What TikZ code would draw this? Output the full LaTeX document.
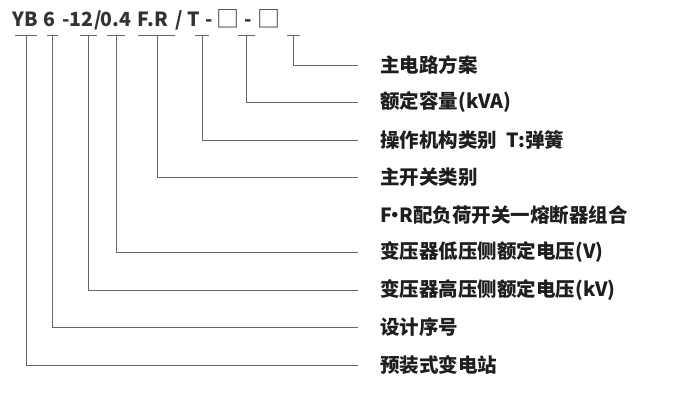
\documentclass[tikz,border=0pt]{standalone}
\usepackage{fontspec}
\setmainfont{Noto Sans CJK SC}
\usepackage{xcolor}
\usetikzlibrary{positioning}
\definecolor{Ink}{HTML}{1E1E1E}
\definecolor{Code}{HTML}{333333}
\definecolor{Rule}{HTML}{666666}
\tikzset{
  code/.style={anchor=base,inner sep=0pt,font=\fontsize{19.5}{22}\selectfont\bfseries,text=Code},
  blank/.style={code,font=\fontsize{23}{26}\selectfont},
  lab/.style={anchor=west,inner sep=0pt,font=\fontsize{19.5}{22}\selectfont\bfseries,text=Ink},
  conn/.style={draw=Rule,line width=0.8pt}
}

\begin{document}
\begin{tikzpicture}[x=1pt,y=-1pt,node distance=37.5pt]
  \useasboundingbox (0,0) rectangle (681,401);
  % model code
  \node[code] (cyb) at (25,27) {YB};
  \node[code] (csix) at (49,27) {6};
  \node[code] (chv) at (78,27) {-12};
  \node[code] (cs1) at (98,27) {/};
  \node[code] (clv) at (116,27) {0.4};
  \node[code] (cfr) at (153,27) {F.R};
  \node[code] (cs2) at (179,27) {/};
  \node[code] (ct) at (194,27) {T};
  \node[code] (cd1) at (209,27) {-};
  \node[blank] (ccap) at (228,28) {□};
  \node[code] (cd2) at (248.5,27) {-};
  \node[blank] (cplan) at (268.5,28) {□};
  % explanations, top to bottom
  \node[lab] (plan) at (380,65) {主电路方案};
  \node[lab,below=of plan.west,anchor=west] (cap) {额定容量(kVA)};
  \node[lab,below=of cap.west,anchor=west] (mech) {操作机构类别\ \ T:弹簧};
  \node[lab,below=of mech.west,anchor=west] (sw) {主开关类别};
  \node[lab,below=of sw.west,anchor=west] (fr) {F\hspace{-6pt}·\hspace{-6pt}R配负荷开关一熔断器组合};
  \node[lab,below=of fr.west,anchor=west] (lv) {变压器低压侧额定电压(V)};
  \node[lab,below=of lv.west,anchor=west] (hv) {变压器高压侧额定电压(kV)};
  \node[lab,below=of hv.west,anchor=west] (seq) {设计序号};
  \node[lab,below=of seq.west,anchor=west] (sub) {预装式变电站};
  % tick under each part of the code
  \coordinate (tyb) at (26,35);
  \coordinate (tsix) at (52.5,35);
  \coordinate (thv) at (88,35);
  \coordinate (tlv) at (116,35);
  \coordinate (tfr) at (157,35);
  \coordinate (tt) at (202,35);
  \coordinate (tcap) at (246.5,35);
  \coordinate (tplan) at (293.5,35);
  \draw[conn] (tyb) ++(-11,0) -- ++(22,0);
  \draw[conn] (tsix) ++(-5.5,0) -- ++(11,0);
  \draw[conn] (thv) ++(-8.5,0) -- ++(17,0);
  \draw[conn] (tlv) ++(-9,0) -- ++(18,0);
  \draw[conn] (tfr) ++(-19,0) -- ++(37,0);
  \draw[conn] (tt) ++(-7,0) -- ++(14,0);
  \draw[conn] (tcap) ++(-8.5,0) -- ++(17,0);
  \draw[conn] (tplan) ++(-6.5,0) -- ++(13,0);
  % leaders
  \draw[conn] (tyb) |- ([xshift=-22pt]sub.west);
  \draw[conn] (tsix) |- ([xshift=-22pt]seq.west);
  \draw[conn] (thv) |- ([xshift=-22pt]hv.west);
  \draw[conn] (tlv) |- ([xshift=-22pt]lv.west);
  \draw[conn] (tfr) |- ([xshift=-22pt]sw.west);
  \draw[conn] (tt) |- ([xshift=-22pt]mech.west);
  \draw[conn] (tcap) |- ([xshift=-22pt]cap.west);
  \draw[conn] (tplan) |- ([xshift=-22pt]plan.west);
\end{tikzpicture}
\end{document}
